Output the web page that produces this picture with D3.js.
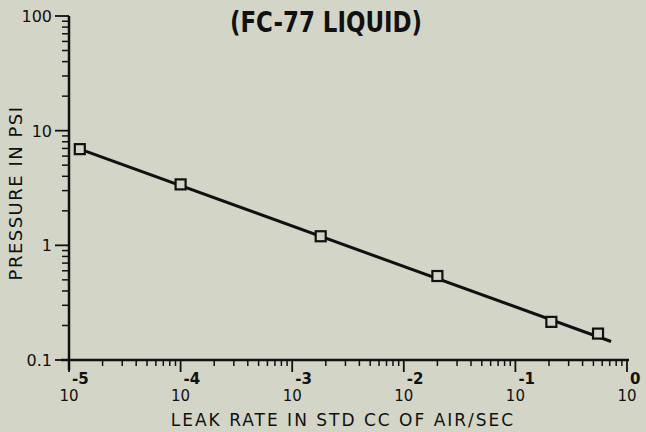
<!DOCTYPE html>
<html>
<head>
<meta charset="utf-8">
<script src="https://cdn.jsdelivr.net/npm/d3@7"></script>
<style>
  body { margin: 0; background: #d3d5c6; }
  svg { display: block; }
  text { font-family: "DejaVu Sans", sans-serif; fill: #111; }
</style>
</head>
<body>
<div class="chart"></div>
<script>
// leak rate (std cc air/sec) vs pressure (psi)
var leakRate = [1.25e-5, 1.0e-4, 1.8e-3, 2.0e-2, 0.21, 0.55];
var pressure = [6.9, 3.4, 1.2, 0.54, 0.215, 0.17];

// straight fitted line, end points
var fitX = [1.2e-5, 0.72];
var fitY = [7.0, 0.145];

var xExps = [-5, -4, -3, -2, -1, 0];
var yTicks = [100, 10, 1, 0.1];
var yTickLabels = ["100", "10", "1", "0.1"];

var width = 646, height = 432;
var margin = { left: 69, right: 19, top: 16, bottom: 72 };

var svg = d3.select(".chart").append("svg")
  .attr("width", width)
  .attr("height", height);

var x = d3.scaleLog().domain([1e-5, 1]).range([margin.left, width - margin.right]);
var y = d3.scaleLog().domain([0.1, 100]).range([height - margin.bottom, margin.top]);

var ink = "#111";

// minor ticks
var xMinor = [], yMinor = [];
for (var e = -5; e < 0; e++) {
  for (var m = 2; m <= 9; m++) xMinor.push(m * Math.pow(10, e));
}
for (var e2 = -1; e2 < 2; e2++) {
  for (var m2 = 2; m2 <= 9; m2++) yMinor.push(m2 * Math.pow(10, e2));
}

// x axis
var xAxis = svg.append("g")
  .attr("transform", "translate(0," + y(0.1) + ")");
xAxis.append("line")
  .attr("x1", x(1e-5) - 8).attr("x2", x(1) + 2)
  .attr("stroke", ink).attr("stroke-width", 2.5);
xAxis.selectAll(".minor").data(xMinor).enter().append("line")
  .attr("x1", function (d) { return x(d); })
  .attr("x2", function (d) { return x(d); })
  .attr("y1", 0).attr("y2", 6)
  .attr("stroke", ink).attr("stroke-width", 1.5);
xAxis.selectAll(".major").data(xExps).enter().append("line")
  .attr("x1", function (d) { return x(Math.pow(10, d)); })
  .attr("x2", function (d) { return x(Math.pow(10, d)); })
  .attr("y1", 0).attr("y2", 12)
  .attr("stroke", ink).attr("stroke-width", 1.8);

// "10" centred on the tick, exponent above and to the right
xAxis.selectAll(".base").data(xExps).enter().append("text")
  .attr("x", function (d) { return x(Math.pow(10, d)); })
  .attr("y", 41)
  .attr("text-anchor", "middle")
  .style("font-size", "15px")
  .text("10");
xAxis.selectAll(".exp").data(xExps).enter().append("text")
  .attr("x", function (d) { return x(Math.pow(10, d)) + 3; })
  .attr("y", 24)
  .style("font-size", "15px")
  .style("font-weight", "bold")
  .text(function (d) { return d === 0 ? "0" : "-" + (-d); });

// y axis
var yAxis = svg.append("g")
  .attr("transform", "translate(" + x(1e-5) + ",0)");
yAxis.append("line")
  .attr("y1", y(100)).attr("y2", y(0.1) + 10)
  .attr("stroke", ink).attr("stroke-width", 2.5);
yAxis.selectAll(".minor").data(yMinor).enter().append("line")
  .attr("y1", function (d) { return y(d); })
  .attr("y2", function (d) { return y(d); })
  .attr("x1", 0).attr("x2", -7)
  .attr("stroke", ink).attr("stroke-width", 1.5);
yAxis.selectAll(".major").data(yTicks).enter().append("line")
  .attr("y1", function (d) { return y(d); })
  .attr("y2", function (d) { return y(d); })
  .attr("x1", 0).attr("x2", -14)
  .attr("stroke", ink).attr("stroke-width", 1.8);
yAxis.selectAll(".lab").data(yTicks).enter().append("text")
  .attr("x", -17)
  .attr("y", function (d) { return y(d) + 6; })
  .attr("text-anchor", "end")
  .style("font-size", "16px")
  .text(function (d, i) { return yTickLabels[i]; });

// fitted line
var line = d3.line()
  .x(function (d) { return x(d[0]); })
  .y(function (d) { return y(d[1]); });
svg.append("path")
  .datum(d3.zip(fitX, fitY))
  .attr("d", line)
  .attr("fill", "none")
  .attr("stroke", ink)
  .attr("stroke-width", 3);

// square markers
svg.selectAll(".pt").data(d3.zip(leakRate, pressure)).enter().append("rect")
  .attr("x", function (d) { return x(d[0]) - 5; })
  .attr("y", function (d) { return y(d[1]) - 5; })
  .attr("width", 10).attr("height", 10)
  .attr("fill", "#d3d5c6")
  .attr("stroke", ink)
  .attr("stroke-width", 2.2);

// titles
svg.append("text")
  .attr("x", 326).attr("y", 32)
  .attr("text-anchor", "middle")
  .attr("textLength", 192)
  .attr("lengthAdjust", "spacingAndGlyphs")
  .style("font-weight", "bold")
  .style("font-size", "29px")
  .text("(FC-77 LIQUID)");

svg.append("text")
  .attr("x", 343).attr("y", 426)
  .attr("text-anchor", "middle")
  .style("font-size", "17px")
  .style("letter-spacing", "2px")
  .text("LEAK RATE IN STD CC OF AIR/SEC");

svg.append("text")
  .attr("transform", "translate(22,193) rotate(-90)")
  .attr("text-anchor", "middle")
  .style("font-size", "18px")
  .style("letter-spacing", "1.5px")
  .text("PRESSURE IN PSI");
</script>
</body>
</html>
